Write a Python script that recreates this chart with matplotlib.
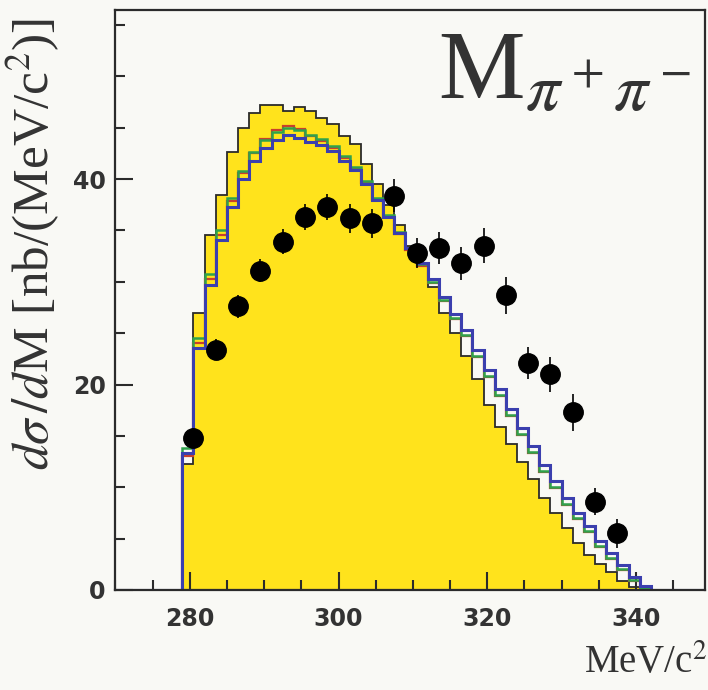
import numpy as np
import matplotlib
matplotlib.use("Agg")
import matplotlib.pyplot as plt
from matplotlib.ticker import MultipleLocator

plt.rcParams["mathtext.fontset"] = "stix"

# measured points (3 MeV bins)
mass = [280.5, 283.5, 286.5, 289.5, 292.5, 295.5, 298.5, 301.5, 304.5, 307.5,
        310.5, 313.5, 316.5, 319.5, 322.5, 325.5, 328.5, 331.5, 334.5, 337.5]
xsec = [14.8, 23.4, 27.6, 31.1, 33.9, 36.3, 37.3, 36.2, 35.7, 38.4,
        32.8, 33.3, 31.8, 33.5, 28.7, 22.1, 21.0, 17.3, 8.6, 5.5]
xerr = [1.0, 1.0, 1.1, 1.1, 1.2, 1.3, 1.3, 1.4, 1.4, 1.6,
        1.5, 1.6, 1.6, 1.7, 1.8, 1.6, 1.7, 1.8, 1.3, 1.4]

# simulations, 1.5 MeV bins starting at threshold
bin_lo = 279.0
bin_w = 1.5
sim_fill = [12.3, 27.0, 34.6, 38.5, 42.6, 45.0, 46.4, 47.2, 47.2, 46.6,
            47.0, 46.6, 46.0, 45.4, 44.2, 43.4, 41.5, 39.5, 37.5, 35.5,
            33.5, 31.5, 29.5, 27.0, 25.0, 22.8, 20.5, 18.0, 15.9, 14.2,
            12.5, 10.8, 9.0, 7.5, 6.0, 4.6, 3.4, 2.5, 1.7, 0.9,
            0.3, 0.0]
sim_red = [13.0, 24.0, 30.3, 34.6, 37.9, 40.6, 42.5, 43.9, 44.8, 45.2,
           44.9, 44.2, 43.7, 43.0, 42.1, 41.0, 39.6, 38.0, 36.3, 34.7,
           33.1, 31.5, 29.9, 28.1, 26.4, 24.7, 22.7, 20.7, 18.9, 16.9,
           15.1, 13.3, 11.5, 9.9, 8.3, 6.9, 5.6, 4.2, 3.0, 1.9,
           0.9, 0.2]
sim_green = [13.8, 24.5, 30.8, 35.0, 38.2, 40.8, 42.6, 43.8, 44.6, 45.0,
             44.8, 44.3, 43.9, 43.2, 42.3, 41.2, 39.8, 38.2, 36.5, 34.9,
             33.3, 31.7, 30.0, 28.2, 26.5, 24.8, 22.8, 20.8, 19.0, 17.0,
             15.2, 13.4, 11.6, 10.0, 8.4, 7.0, 5.7, 4.3, 3.1, 2.0,
             1.0, 0.2]
sim_blue = [13.3, 23.6, 29.7, 34.1, 37.3, 40.0, 41.8, 43.0, 43.8, 44.3,
            44.0, 43.6, 43.3, 42.7, 41.8, 40.9, 39.5, 38.0, 36.3, 34.8,
            33.3, 31.8, 30.3, 28.5, 26.9, 25.3, 23.4, 21.4, 19.6, 17.6,
            15.8, 14.0, 12.2, 10.6, 9.0, 7.5, 6.2, 4.8, 3.6, 2.4,
            1.3, 0.4]

edges = bin_lo + bin_w * np.arange(len(sim_blue) + 1)

bg = "#f9f9f5"
yellow = "#ffe31c"
blue = "#3b3fae"
green = "#2fa24c"
red = "#c8402c"
dark = "#2b2b2b"

fig = plt.figure(figsize=(7.08, 6.90), dpi=100, facecolor=bg)
ax = fig.add_axes([0.163, 0.145, 0.833, 0.841], facecolor=bg)

ax.stairs(sim_fill, edges, fill=True, color=yellow, zorder=1)
ax.stairs(sim_fill, edges, color=dark, lw=1.3, zorder=2)
ax.stairs(sim_red, edges, color=red, lw=1.6, zorder=3)
ax.stairs(sim_green, edges, color=green, lw=1.8, zorder=4)
ax.stairs(sim_blue, edges, color=blue, lw=2.2, zorder=5)
ax.axhline(0, color=blue, lw=2.2, zorder=5)

ax.errorbar(mass, xsec, yerr=xerr, fmt="o", color="black", ms=14,
            elinewidth=1.2, capsize=0, zorder=6)

ax.set_xlim(270, 349.3)
ax.set_ylim(0, 56.5)
ax.xaxis.set_major_locator(MultipleLocator(20))
ax.xaxis.set_minor_locator(MultipleLocator(5))
ax.yaxis.set_major_locator(MultipleLocator(20))
ax.yaxis.set_minor_locator(MultipleLocator(5))
ax.tick_params(which="both", direction="in", color=dark, width=1.5,
               top=False, right=False)
ax.tick_params(which="major", length=13)
ax.tick_params(which="minor", length=7)
ax.tick_params(axis="x", pad=12)
ax.tick_params(axis="y", pad=7)
for lab in ax.get_xticklabels() + ax.get_yticklabels():
    lab.set_fontfamily("DejaVu Sans")
    lab.set_fontweight("bold")
    lab.set_fontsize(17)
    lab.set_color("#333333")
for sp in ax.spines.values():
    sp.set_color(dark)
    sp.set_linewidth(1.6)
ax.spines["bottom"].set_zorder(7)

ax.set_ylabel(r"$d\sigma\,/d$M [nb/(MeV/c$^2$)]", family="Liberation Serif",
              fontsize=37, color="#333333", loc="top",
              math_fontfamily="stix")
ax.yaxis.set_label_coords(-0.09, 0.985)

fig.text(0.999, 0.025, r"MeV/c$^2$", family="Liberation Serif", fontsize=28,
         color="#333333", ha="right", va="baseline")
fig.text(0.975, 0.858, r"M$_{\pi^+\pi^-}$", family="Liberation Serif",
         fontsize=70, color="#333333", ha="right", va="baseline")

fig.savefig("out.png", dpi=100, facecolor=bg)
